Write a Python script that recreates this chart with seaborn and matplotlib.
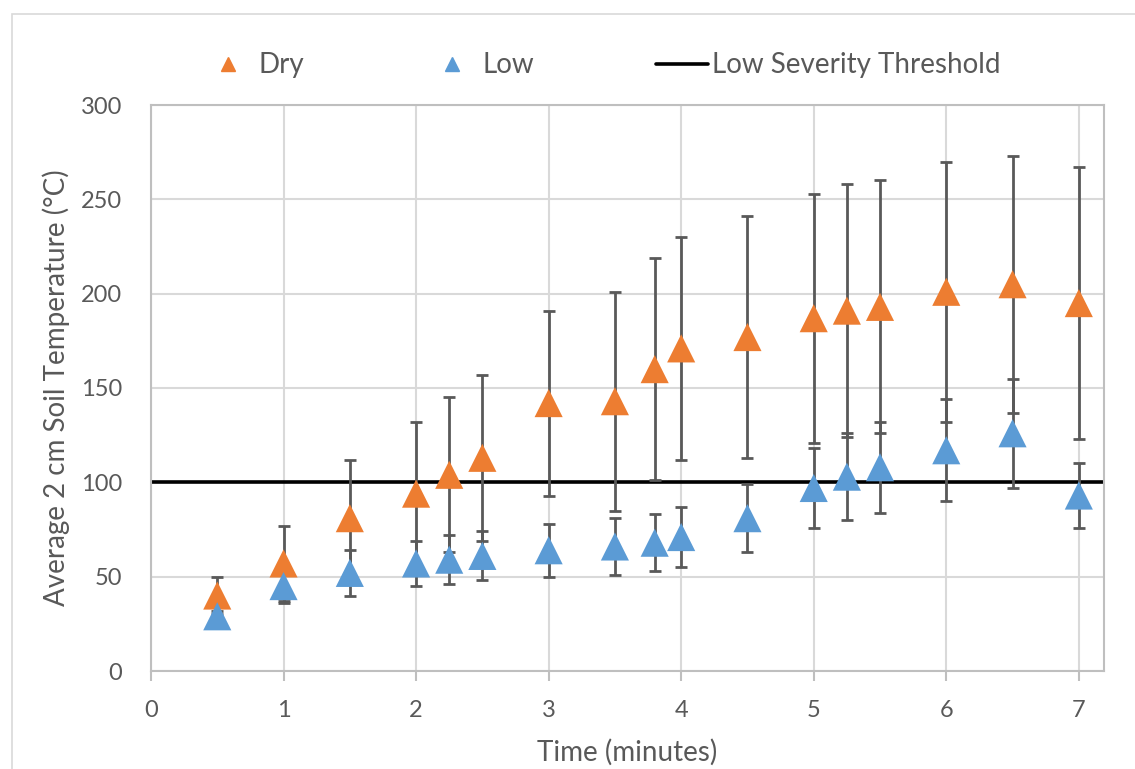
import matplotlib
matplotlib.use("Agg")
import matplotlib.pyplot as plt
from matplotlib.lines import Line2D
from matplotlib.patches import Rectangle
import pandas as pd
import seaborn as sns

# values
time_min = [0.5, 1, 1.5, 2, 2.25, 2.5, 3, 3.5, 3.8, 4, 4.5, 5, 5.25, 5.5, 6, 6.5, 7]
dry_mean = [40, 57, 81, 94, 104, 113, 142, 143, 160, 171, 177, 187, 191, 193, 201, 205, 195]
dry_err = [10, 20, 31, 38, 41, 44, 49, 58, 59, 59, 64, 66, 67, 67, 69, 68, 72]
low_mean = [29, 45, 52, 57, 59, 61, 64, 66, 68, 71, 81, 97, 103, 108, 117, 126, 93]
low_err = [3, 9, 12, 12, 13, 13, 14, 15, 15, 16, 18, 21, 23, 24, 27, 29, 17]
threshold = 100

ORANGE = "#ED7D31"
BLUE = "#5B9BD5"
TEXT = "#595959"
GRID = "#D9D9D9"

df = pd.DataFrame({
    "time": time_min,
    "dry": dry_mean,
    "dry_err": dry_err,
    "low": low_mean,
    "low_err": low_err,
})

sns.set_style("white")
plt.rcParams["font.family"] = ["Lato", "DejaVu Sans"]

fig = plt.figure(figsize=(11.35, 7.69), dpi=100)
ax = fig.add_axes([151 / 1135, 98 / 769, 953 / 1135, 566 / 769])

# outer chart border
fig.patches.append(Rectangle((12 / 1135, -0.1), 1.2, 1.1 - 14 / 769,
                             transform=fig.transFigure, fill=False,
                             edgecolor=GRID, linewidth=1.2, zorder=0))

# threshold line
ax.axhline(threshold, color="black", linewidth=2.6, zorder=2)

# error bars
for col in ["dry", "low"]:
    ax.errorbar(df["time"], df[col], yerr=df[col + "_err"], fmt="none",
                ecolor=TEXT, elinewidth=2, capsize=4.3, capthick=2, zorder=3)

# markers
sns.scatterplot(data=df, x="time", y="dry", marker="^", s=410, color=ORANGE,
                edgecolor="none", ax=ax, zorder=4)
sns.scatterplot(data=df, x="time", y="low", marker="^", s=410, color=BLUE,
                edgecolor="none", ax=ax, zorder=4)

ax.set_xlim(0, 7.19)
ax.set_ylim(0, 300)
ax.set_xticks(range(0, 8))
ax.set_yticks(range(0, 301, 50))
ax.grid(True, color=GRID, linewidth=1.5, zorder=0)
ax.set_axisbelow(True)
for s in ax.spines.values():
    s.set_color("#BFBFBF")
    s.set_linewidth(1.5)

ax.tick_params(axis="x", which="major", length=7, width=1.5, color="#BFBFBF",
               direction="out", bottom=True, labelsize=17, labelcolor=TEXT, pad=14)
ax.tick_params(axis="y", length=0, labelsize=17, labelcolor=TEXT, pad=21)

ax.set_xlabel("Time (minutes)", fontsize=20, color=TEXT)
ax.set_ylabel("Average 2 cm Soil Temperature (°C)", fontsize=20, color=TEXT)
ax.xaxis.set_label_coords(0.5, -0.12)
ax.yaxis.set_label_coords(-0.085, 0.5)

handles = [
    Line2D([], [], linestyle="none", marker="^", markersize=10, color=ORANGE),
    Line2D([], [], linestyle="none", marker="^", markersize=10, color=BLUE),
    Line2D([], [], color="black", linewidth=2.6),
]
fig.legend(handles, ["Dry", "Low", "Low Severity Threshold"], ncol=3,
           loc="center", bbox_to_anchor=(0.53, 0.915), frameon=False,
           fontsize=20, labelcolor=TEXT, handlelength=1.87, handletextpad=0.15,
           columnspacing=4.4)

fig.savefig("out.png", dpi=100)
